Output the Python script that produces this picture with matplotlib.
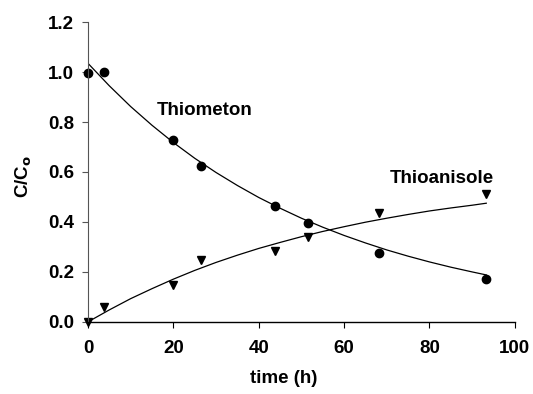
"""
Thiometon decay and thioanisole formation vs time.
"""

import matplotlib
matplotlib.use("Agg")
import matplotlib.pyplot as plt

plt.rcParams['font.family'] = ['Liberation Sans', 'DejaVu Sans']
plt.rcParams['font.weight'] = 'bold'

#---------------------------
#measured points
#---------------------------
t_meas = [0, 3.7, 20, 26.4, 43.8, 51.6, 68.1, 93.3]
thiometon = [0.996, 1.0, 0.728, 0.624, 0.464, 0.396, 0.275, 0.171]
thioanisole = [0.0, 0.059, 0.147, 0.248, 0.285, 0.339, 0.435, 0.511]

#---------------------------
#fitted curves
#---------------------------
t_fit = [0, 5, 10, 15, 20, 25, 30, 35, 40, 45, 50, 55, 60, 65, 70, 75, 80, 85, 90, 93.3]
thiometon_fit = [1.035, 0.945, 0.862, 0.787, 0.718, 0.655, 0.598, 0.546, 0.498,
                 0.455, 0.415, 0.379, 0.346, 0.316, 0.288, 0.263, 0.240, 0.219,
                 0.200, 0.188]
thioanisole_fit = [0.0, 0.048, 0.093, 0.133, 0.171, 0.206, 0.238, 0.267, 0.294,
                   0.318, 0.341, 0.362, 0.381, 0.399, 0.415, 0.430, 0.444, 0.456,
                   0.467, 0.475]

fs = 13.5

fig = plt.figure(figsize=(5.33, 3.94), dpi=100)
ax1 = fig.add_axes([0.165, 0.183, 0.801, 0.761])

ax1.plot(t_fit, thiometon_fit, color='black', lw=0.9)
ax1.plot(t_fit, thioanisole_fit, color='black', lw=0.9)
ax1.plot(t_meas, thiometon, 'o', color='black', ms=6, clip_on=False)
ax1.plot(t_meas, thioanisole, 'v', color='black', ms=6, clip_on=False)

ax1.text(27.4, 0.845, "Thiometon", ha='center', va='center', fontsize=fs, fontweight='bold')
ax1.text(82.9, 0.574, "Thioanisole", ha='center', va='center', fontsize=fs, fontweight='bold')

#---------------------------------
#axes and labels
#---------------------------------
ax1.set_xlim(0, 100)
ax1.set_ylim(0, 1.2)
ax1.set_xticks([0, 20, 40, 60, 80, 100])
ax1.set_yticks([0.0, 0.2, 0.4, 0.6, 0.8, 1.0, 1.2])
ax1.set_yticklabels(["%.1f" % v for v in ax1.get_yticks()])
ax1.spines['top'].set_visible(False)
ax1.spines['right'].set_visible(False)
ax1.spines['left'].set_color('#555555')
ax1.spines['left'].set_linewidth(0.8)
ax1.spines['bottom'].set_linewidth(1.0)
ax1.tick_params(axis='both', direction='out', length=4, width=0.8, labelsize=fs)
ax1.tick_params(axis='y', pad=6, color='#555555')
ax1.tick_params(axis='x', pad=9)

ax1.set_xlabel("time (h)", fontsize=fs, fontweight='bold')
ax1.xaxis.set_label_coords(0.459, -0.16)
ax1.set_ylabel(r"C/C$_\mathbf{o}$", fontsize=fs, fontweight='bold')
ax1.yaxis.set_label_coords(-0.127, 0.485)

fig.savefig("out.png", dpi=100)
